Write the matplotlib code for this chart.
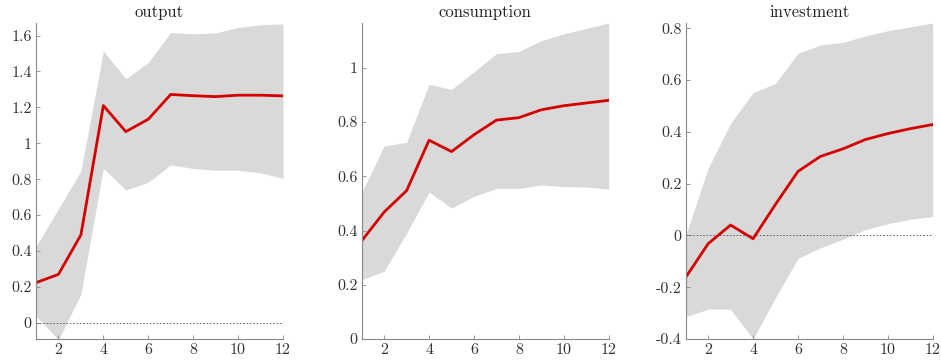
import numpy as np
from matplotlib import pyplot as plt
from matplotlib.ticker import FuncFormatter

# horizon
steps = np.arange(1, 13)

# output: median response and band
output_mid = [0.224, 0.27, 0.49, 1.21, 1.065, 1.134, 1.272, 1.265, 1.26, 1.268, 1.268, 1.264]
output_hi = [0.425, 0.635, 0.846, 1.514, 1.36, 1.45, 1.617, 1.61, 1.615, 1.645, 1.66, 1.665]
output_lo = [0.039, -0.095, 0.16, 0.861, 0.74, 0.783, 0.88, 0.86, 0.85, 0.85, 0.835, 0.805]

# consumption
cons_mid = [0.362, 0.468, 0.547, 0.733, 0.691, 0.753, 0.807, 0.816, 0.845, 0.86, 0.870, 0.880]
cons_hi = [0.54, 0.712, 0.725, 0.939, 0.92, 0.985, 1.052, 1.06, 1.10, 1.125, 1.145, 1.165]
cons_lo = [0.218, 0.25, 0.39, 0.542, 0.483, 0.526, 0.555, 0.555, 0.568, 0.562, 0.56, 0.553]

# investment
inv_mid = [-0.162, -0.032, 0.040, -0.013, 0.12, 0.247, 0.305, 0.334, 0.37, 0.393, 0.412, 0.428]
inv_hi = [0.0, 0.259, 0.433, 0.551, 0.587, 0.703, 0.735, 0.745, 0.77, 0.79, 0.805, 0.82]
inv_lo = [-0.314, -0.285, -0.285, -0.40, -0.24, -0.089, -0.048, -0.015, 0.022, 0.045, 0.062, 0.073]

titles = ['output', 'consumption', 'investment']
mids = [output_mid, cons_mid, inv_mid]
his = [output_hi, cons_hi, inv_hi]
los = [output_lo, cons_lo, inv_lo]
ylims = [(-0.09, 1.67), (0, 1.165), (-0.4, 0.82)]
yticks = [np.arange(0, 1.61, 0.2), np.arange(0, 1.01, 0.2), np.arange(-0.4, 0.81, 0.2)]

plt.rcParams['font.family'] = 'serif'
plt.rcParams['font.serif'] = ['cmr10']
plt.rcParams['axes.unicode_minus'] = False

fig = plt.figure(figsize=(9.41, 3.6), dpi=100)
lefts = [36 / 941, 361.7 / 941, 685.7 / 941]

fmt = FuncFormatter(lambda v, pos: '%g' % round(v, 2))

for i in range(3):
    ax = fig.add_axes([lefts[i], 21 / 360, 247 / 941, 316 / 360])
    ax.fill_between(steps, los[i], his[i], color='#d9d9d9', linewidth=0)
    ax.axhline(0, color='#555555', linestyle=(0, (2, 2)), linewidth=0.6)
    ax.plot(steps, mids[i], color='#d40000', linewidth=2)
    ax.set_xlim(1, 12)
    ax.set_ylim(*ylims[i])
    ax.set_xticks(np.arange(2, 13, 2))
    ax.set_yticks(yticks[i])
    ax.yaxis.set_major_formatter(fmt)
    ax.set_title(titles[i], fontsize=12, pad=4, color='#222222')
    for s in ['top', 'right']:
        ax.spines[s].set_visible(False)
    for s in ['left', 'bottom']:
        ax.spines[s].set_color('#888888')
        ax.spines[s].set_linewidth(0.8)
    ax.tick_params(labelsize=11.5, labelcolor='#333333', length=3, width=0.6,
                   direction='in', color='#888888', pad=3)

fig.savefig('out.png', dpi=100)
